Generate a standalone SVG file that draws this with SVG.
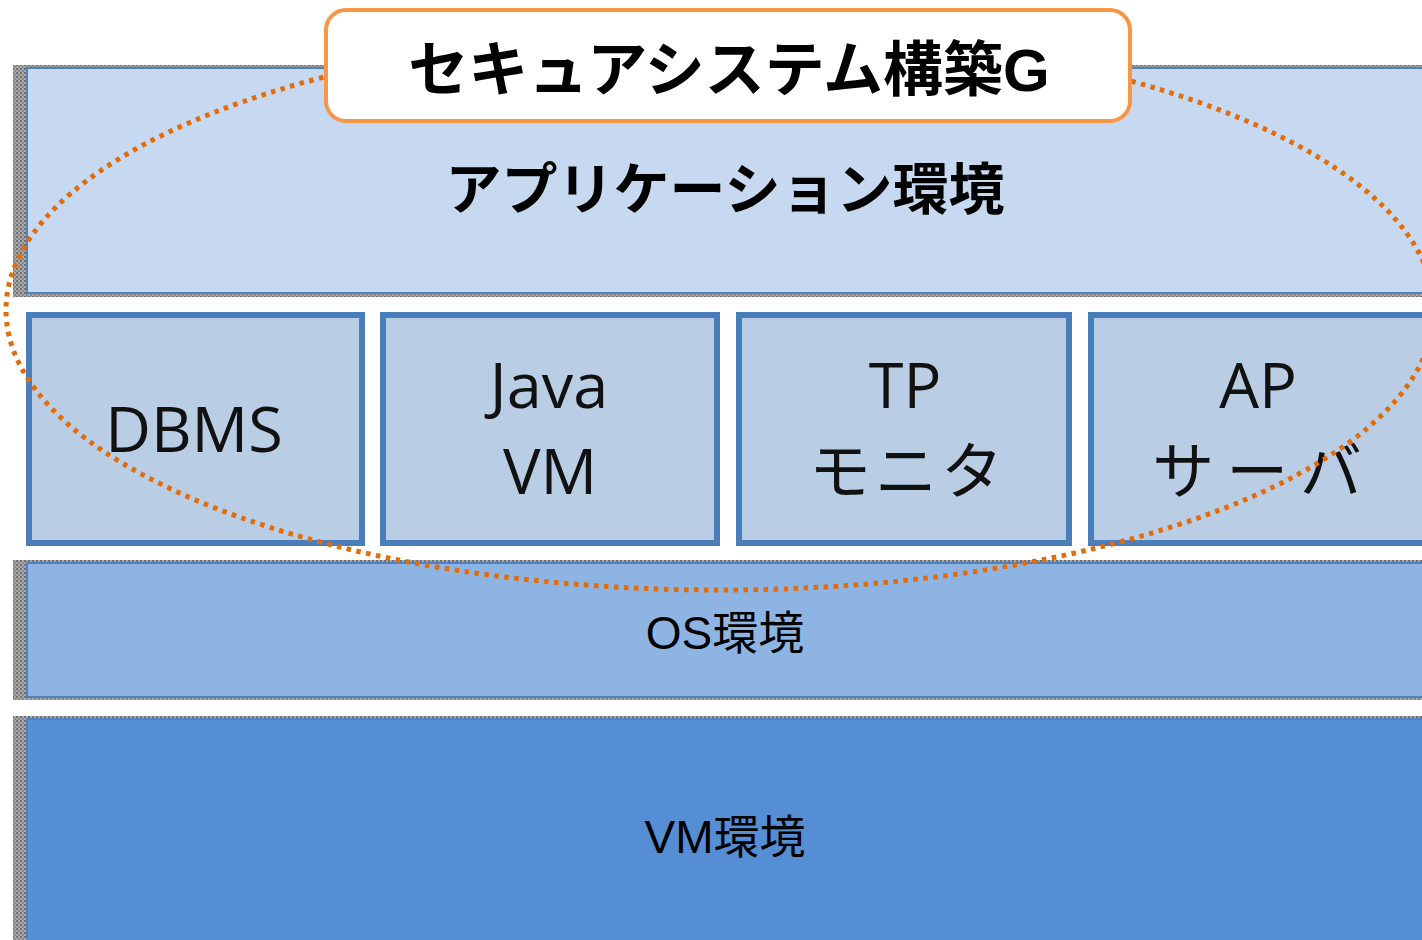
<svg xmlns="http://www.w3.org/2000/svg" width="1422" height="940" viewBox="0 0 1422 940">
<defs>
<pattern id="tex" width="4" height="4" patternUnits="userSpaceOnUse">
<rect width="4" height="4" fill="#a8a8a8"/>
<rect width="2" height="2" fill="#707070"/>
<rect x="2" y="2" width="2" height="2" fill="#888888"/>
</pattern>
</defs>
<style>
.band{stroke:#4F81BD;stroke-width:2}
.edge{fill:url(#tex)}
.box{fill:#B9CDE5;stroke:#4A7EBB;stroke-width:6}
.lbl{font-family:"Open Sans","Noto Sans CJK JP",sans-serif;font-size:63px;fill:#111;text-anchor:middle}
.jp{font-family:"Noto Sans CJK JP",sans-serif;font-size:62px;fill:#111;text-anchor:middle}
.env{font-family:"Liberation Sans","Noto Sans CJK JP",sans-serif;font-size:46px;fill:#000;text-anchor:middle}
.big{font-family:"Liberation Sans","Noto Sans CJK JP",sans-serif;font-weight:700;fill:#000;text-anchor:middle}
</style>
<rect width="1422" height="940" fill="#ffffff"/>
<g id="app-env">
<rect class="edge" x="13" y="65" width="1409" height="232"/>
<rect class="band" x="27" y="68" width="1400" height="225" fill="#C6D9F1"/>
<text class="big" x="725" y="209" font-size="56">アプリケーション環境</text>
</g>
<g id="dbms">
<rect class="box" x="29" y="315" width="333" height="228"/>
<text class="lbl" x="194" y="452">DBMS</text>
</g>
<g id="javavm">
<rect class="box" x="383" y="315" width="334" height="228"/>
<text class="lbl" x="549" y="408">Java</text>
<text class="lbl" x="550" y="494">VM</text>
</g>
<g id="tpmonitor">
<rect class="box" x="739" y="315" width="330" height="228"/>
<text class="lbl" x="905" y="408">TP</text>
<text class="jp" x="908" y="494" letter-spacing="4">モニタ</text>
</g>
<g id="apserver">
<rect class="box" x="1091" y="315" width="340" height="228"/>
<text class="lbl" x="1258" y="408">AP</text>
<text class="jp" x="1263" y="494" letter-spacing="12">サーバ</text>
</g>
<g id="os-env">
<rect class="edge" x="13" y="560" width="1409" height="140"/>
<rect class="band" x="27" y="563" width="1400" height="134" fill="#8EB4E3"/>
<text class="env" x="725" y="649">OS環境</text>
</g>
<g id="vm-env">
<rect class="edge" x="13" y="716" width="1409" height="230"/>
<rect class="band" x="27" y="719" width="1400" height="230" fill="#558ED5"/>
<text class="env" x="725" y="853">VM環境</text>
</g>
<g id="group-ellipse">
<ellipse cx="720" cy="310" rx="714" ry="280" fill="none" stroke="#E36C09" stroke-width="5" stroke-dasharray="4.5 5.5"/>
</g>
<g id="title">
<rect x="326" y="10" width="804" height="111" rx="20" fill="#ffffff" stroke="#F79646" stroke-width="4"/>
<text class="big" x="729" y="91" font-size="60">セキュアシステム構築G</text>
</g>
</svg>
